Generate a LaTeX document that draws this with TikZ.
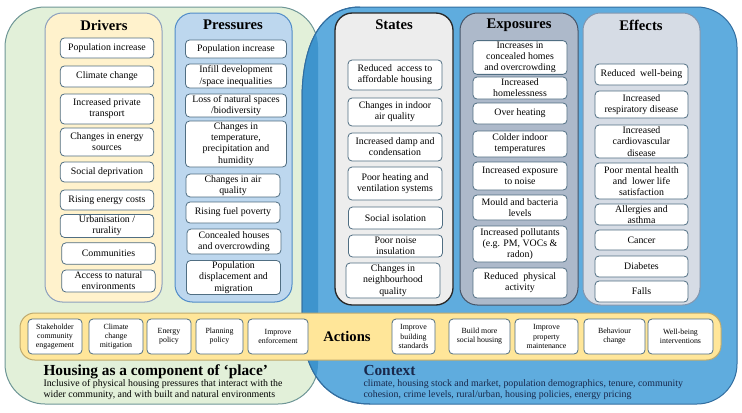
\documentclass[tikz,border=0pt]{standalone}
\usepackage{fontspec}
\setmainfont{Liberation Serif}

\definecolor{greenbg}{RGB}{226,240,217}
\definecolor{greenline}{RGB}{110,150,150}
\definecolor{bluebg}{RGB}{95,172,222}
\definecolor{blueover}{RGB}{62,148,205}
\definecolor{blueline}{RGB}{50,110,160}
\definecolor{drvfill}{RGB}{255,242,204}
\definecolor{drvline}{RGB}{140,160,190}
\definecolor{prsfill}{RGB}{189,215,238}
\definecolor{prsline}{RGB}{80,140,200}
\definecolor{stafill}{RGB}{237,237,237}
\definecolor{staline}{RGB}{40,40,40}
\definecolor{expfill}{RGB}{173,185,202}
\definecolor{expline}{RGB}{70,85,105}
\definecolor{efffill}{RGB}{214,220,229}
\definecolor{effline}{RGB}{130,150,175}
\definecolor{actfill}{RGB}{255,230,153}
\definecolor{actline}{RGB}{190,170,110}
\definecolor{boxline}{RGB}{80,110,130}
\definecolor{ctxtext}{RGB}{25,40,75}

\tikzset{every picture/.style={line width=0.75pt}}
\tikzset{
  itembox/.style={draw=boxline, fill=white, rounded corners=3pt, align=center, inner sep=1pt, line width=0.6pt, font=\fontsize{7.4}{8.4}\selectfont},
  drvbox/.style={itembox, minimum width=70pt},
  prsbox/.style={itembox, minimum width=75.75pt},
  stabox/.style={itembox, minimum width=70.5pt},
  expbox/.style={itembox, minimum width=70.5pt},
  effbox/.style={itembox, minimum width=69.75pt},
  actbox/.style={itembox, minimum height=26.25pt, font=\fontsize{5.9}{6.8}\selectfont},
  coltitle/.style={inner sep=0.75pt, font=\bfseries\fontsize{11}{12}\selectfont},
}

\begin{document}
\begin{tikzpicture}[x=0.75pt,y=0.75pt,yscale=-1,xscale=1]
\useasboundingbox (0,0) rectangle (742,412);

%Rounded Rect: housing / place
\draw [draw=greenline, fill=greenbg, rounded corners=30pt] (5,7) rectangle (318,404);
%Shape: context
\draw [draw=blueline, fill=bluebg] (360,7) -- (697,7) .. controls (719,7) and (737,25) .. (737,47) -- (737,364) .. controls (737,386) and (719,404) .. (697,404) -- (370,404) .. controls (325,404) and (302,370) .. (302,320) -- (302,100) .. controls (302,45) and (320,7) .. (360,7) -- cycle ;
%overlap of both
\begin{scope}
\clip [rounded corners=30pt] (5,7) rectangle (318,404);
\fill [blueover] (360,7) -- (697,7) -- (697,404) -- (370,404) .. controls (325,404) and (302,370) .. (302,320) -- (302,100) .. controls (302,45) and (320,7) .. (360,7) -- cycle ;
\end{scope}
\draw [draw=blueline] (370,404) .. controls (325,404) and (302,370) .. (302,320) -- (302,100) .. controls (302,45) and (320,7) .. (360,7) ;

%Rounded Rect: columns
\draw [draw=drvline, fill=drvfill, rounded corners=13pt] (45,13) rectangle (162,302);
\draw [draw=prsline, fill=prsfill, rounded corners=13pt] (175,13) rectangle (292,302);
\draw [draw=staline, fill=stafill, rounded corners=13pt, line width=1pt] (335,13) rectangle (453,305);
\draw [draw=expline, fill=expfill, rounded corners=13pt] (460,13) rectangle (578,305);
\draw [draw=effline, fill=efffill, rounded corners=13pt] (583,13) rectangle (700,305);
%Rounded Rect: actions bar
\draw [draw=actline, fill=actfill, rounded corners=11pt] (20,313) rectangle (721,360);

% Column titles
\node [coltitle] (drvtitle) at (104,25) {Drivers};
\node [coltitle] (prstitle) at (233,25) {Pressures};
\node [coltitle] (statitle) at (394,25) {States};
\node [coltitle] (exptitle) at (519,25) {Exposures};
\node [coltitle] (efftitle) at (641,25) {Effects};

% Drivers
\node [drvbox, minimum height=15pt] (drv1) at (107,48) {Population increase};
\node [drvbox, minimum height=15.75pt] (drv2) at (107,76.5) {Climate change};
\node [drvbox, minimum height=22.5pt] (drv3) at (107,109) {Increased private\\transport};
\node [drvbox, minimum height=21pt] (drv4) at (107,142) {Changes in energy\\sources};
\node [drvbox, minimum height=15pt] (drv5) at (107,172) {Social deprivation};
\node [drvbox, minimum height=15pt] (drv6) at (107,200) {Rising energy costs};
\node [drvbox, minimum height=16.5pt] (drv7) at (107,226) {Urbanisation /\\rurality};
\node [drvbox, minimum height=16pt] (drv8) at (108.5,253.5) {Communities};
\node [drvbox, minimum height=16.5pt] (drv9) at (108.5,281) {Access to natural\\environments};

% Pressures
\node [prsbox, minimum height=13.5pt] (prs1) at (236,49) {Population increase};
\node [prsbox, minimum height=18pt] (prs2) at (236,76) {Infill development\\/space inequalities};
\node [prsbox, minimum height=17pt] (prs3) at (236,105.5) {Loss of natural spaces\\/biodiversity};
\node [prsbox, minimum height=34.5pt] (prs4) at (236,144) {Changes in\\temperature,\\precipitation and\\humidity};
\node [prsbox, minimum width=70.5pt, minimum height=17pt] (prs5) at (233,185.5) {Changes in air\\quality};
\node [prsbox, minimum width=70.5pt, minimum height=15.75pt] (prs6) at (233,212.5) {Rising fuel poverty};
\node [prsbox, minimum width=70.5pt, minimum height=18.75pt] (prs7) at (234,241.5) {Concealed houses\\and overcrowding};
\node [prsbox, minimum width=70.5pt, minimum height=24.75pt] (prs8) at (233.5,277.5) {Population\\displacement and\\migration};

% States
\node [stabox, minimum height=22.5pt] (sta1) at (395,75) {Reduced \ access to\\affordable housing};
\node [stabox, minimum height=21pt] (sta2) at (395,112) {Changes in indoor\\air quality};
\node [stabox, minimum height=21pt] (sta3) at (395,147) {Increased damp and\\condensation};
\node [stabox, minimum height=24.75pt] (sta4) at (395,183.5) {Poor heating and\\ventilation systems};
\node [stabox, minimum height=16.5pt] (sta5) at (395.5,218) {Social isolation};
\node [stabox, minimum height=16.5pt] (sta6) at (395.5,246) {Poor noise\\insulation};
\node [stabox, minimum height=26.25pt] (sta7) at (393,280.5) {Changes in\\neighbourhood\\quality};

% Exposures
\node [expbox, minimum height=23.25pt] (exp1) at (520,57.5) {Increases in\\concealed homes\\and overcrowding};
\node [expbox, minimum height=16.5pt] (exp2) at (520,88) {Increased\\homelessness};
\node [expbox, minimum height=15.75pt] (exp3) at (520,113.5) {Over heating};
\node [expbox, minimum height=19.5pt] (exp4) at (520,144) {Colder indoor\\temperatures};
\node [expbox, minimum height=21pt] (exp5) at (520,176) {Increased exposure\\to noise};
\node [expbox, minimum height=18.75pt] (exp6) at (520,207.5) {Mould and bacteria\\levels};
\node [expbox, minimum height=27pt] (exp7) at (520,244) {Increased pollutants\\(e.g. PM, VOCs \&\\radon)};
\node [expbox, minimum height=22.5pt] (exp8) at (520,283) {Reduced \ physical\\activity};

% Effects
\node [effbox, minimum height=15.75pt] (eff1) at (641.5,74.5) {Reduced \ well-being};
\node [effbox, minimum height=20.25pt] (eff2) at (641.5,104.5) {Increased\\respiratory disease};
\node [effbox, minimum height=24.75pt] (eff3) at (641.5,141.5) {Increased\\cardiovascular\\disease};
\node [effbox, minimum height=27pt] (eff4) at (641.5,181) {Poor mental health\\and \ lower life\\satisfaction};
\node [effbox, minimum height=15.75pt] (eff5) at (641.5,214.5) {Allergies and\\asthma};
\node [effbox, minimum height=15pt] (eff6) at (641.5,240) {Cancer};
\node [effbox, minimum height=15.75pt] (eff7) at (641.5,266.5) {Diabetes};
\node [effbox, minimum height=15.75pt] (eff8) at (641.5,291.5) {Falls};

% Actions
\node [coltitle] (acttitle) at (347,336.5) {Actions};
\node [actbox, minimum width=40.5pt] (act1) at (55,336.5) {Stakeholder\\community\\engagement};
\node [actbox, minimum width=40.5pt] (act2) at (116,336.5) {Climate\\change\\mitigation};
\node [actbox, minimum width=33pt] (act3) at (169,336.5) {Energy\\policy};
\node [actbox, minimum width=35.25pt] (act4) at (219.5,336.5) {Planning\\policy};
\node [actbox, minimum width=45pt] (act5) at (278,336.5) {Improve\\enforcement};
\node [actbox, minimum width=32.25pt] (act6) at (413.5,336.5) {Improve\\building\\standards};
\node [actbox, minimum width=45.75pt] (act7) at (479.5,336.5) {Build more\\social housing};
\node [actbox, minimum width=47.25pt] (act8) at (546.5,336.5) {Improve\\property\\maintenance};
\node [actbox, minimum width=45.75pt] (act9) at (614.5,336.5) {Behaviour\\change};
\node [actbox, minimum width=48.75pt] (act10) at (680.5,336.5) {Well-being\\interventions};

% Text Node: place
\node [anchor=base west, inner sep=0pt, font=\bfseries\fontsize{11.5}{13}\selectfont] (placetitle) at (43,375) {Housing as a component of ‘place’};
\node [anchor=north west, inner sep=0pt, align=left, font=\fontsize{7.4}{8.25}\selectfont] (placetext) at (43,379.5) {Inclusive of physical housing pressures that interact with the\\wider community, and with built and natural environments};
% Text Node: context
\node [anchor=base west, inner sep=0pt, text=ctxtext, font=\bfseries\fontsize{11.5}{13}\selectfont] (ctxtitle) at (363,375) {Context};
\node [anchor=north west, inner sep=0pt, align=left, text=ctxtext, font=\fontsize{7.4}{8.25}\selectfont] (ctxtext) at (363,379.5) {climate, housing stock and market, population demographics, tenure, community\\cohesion, crime levels, rural/urban, housing policies, energy pricing};

\end{tikzpicture}
\end{document}
